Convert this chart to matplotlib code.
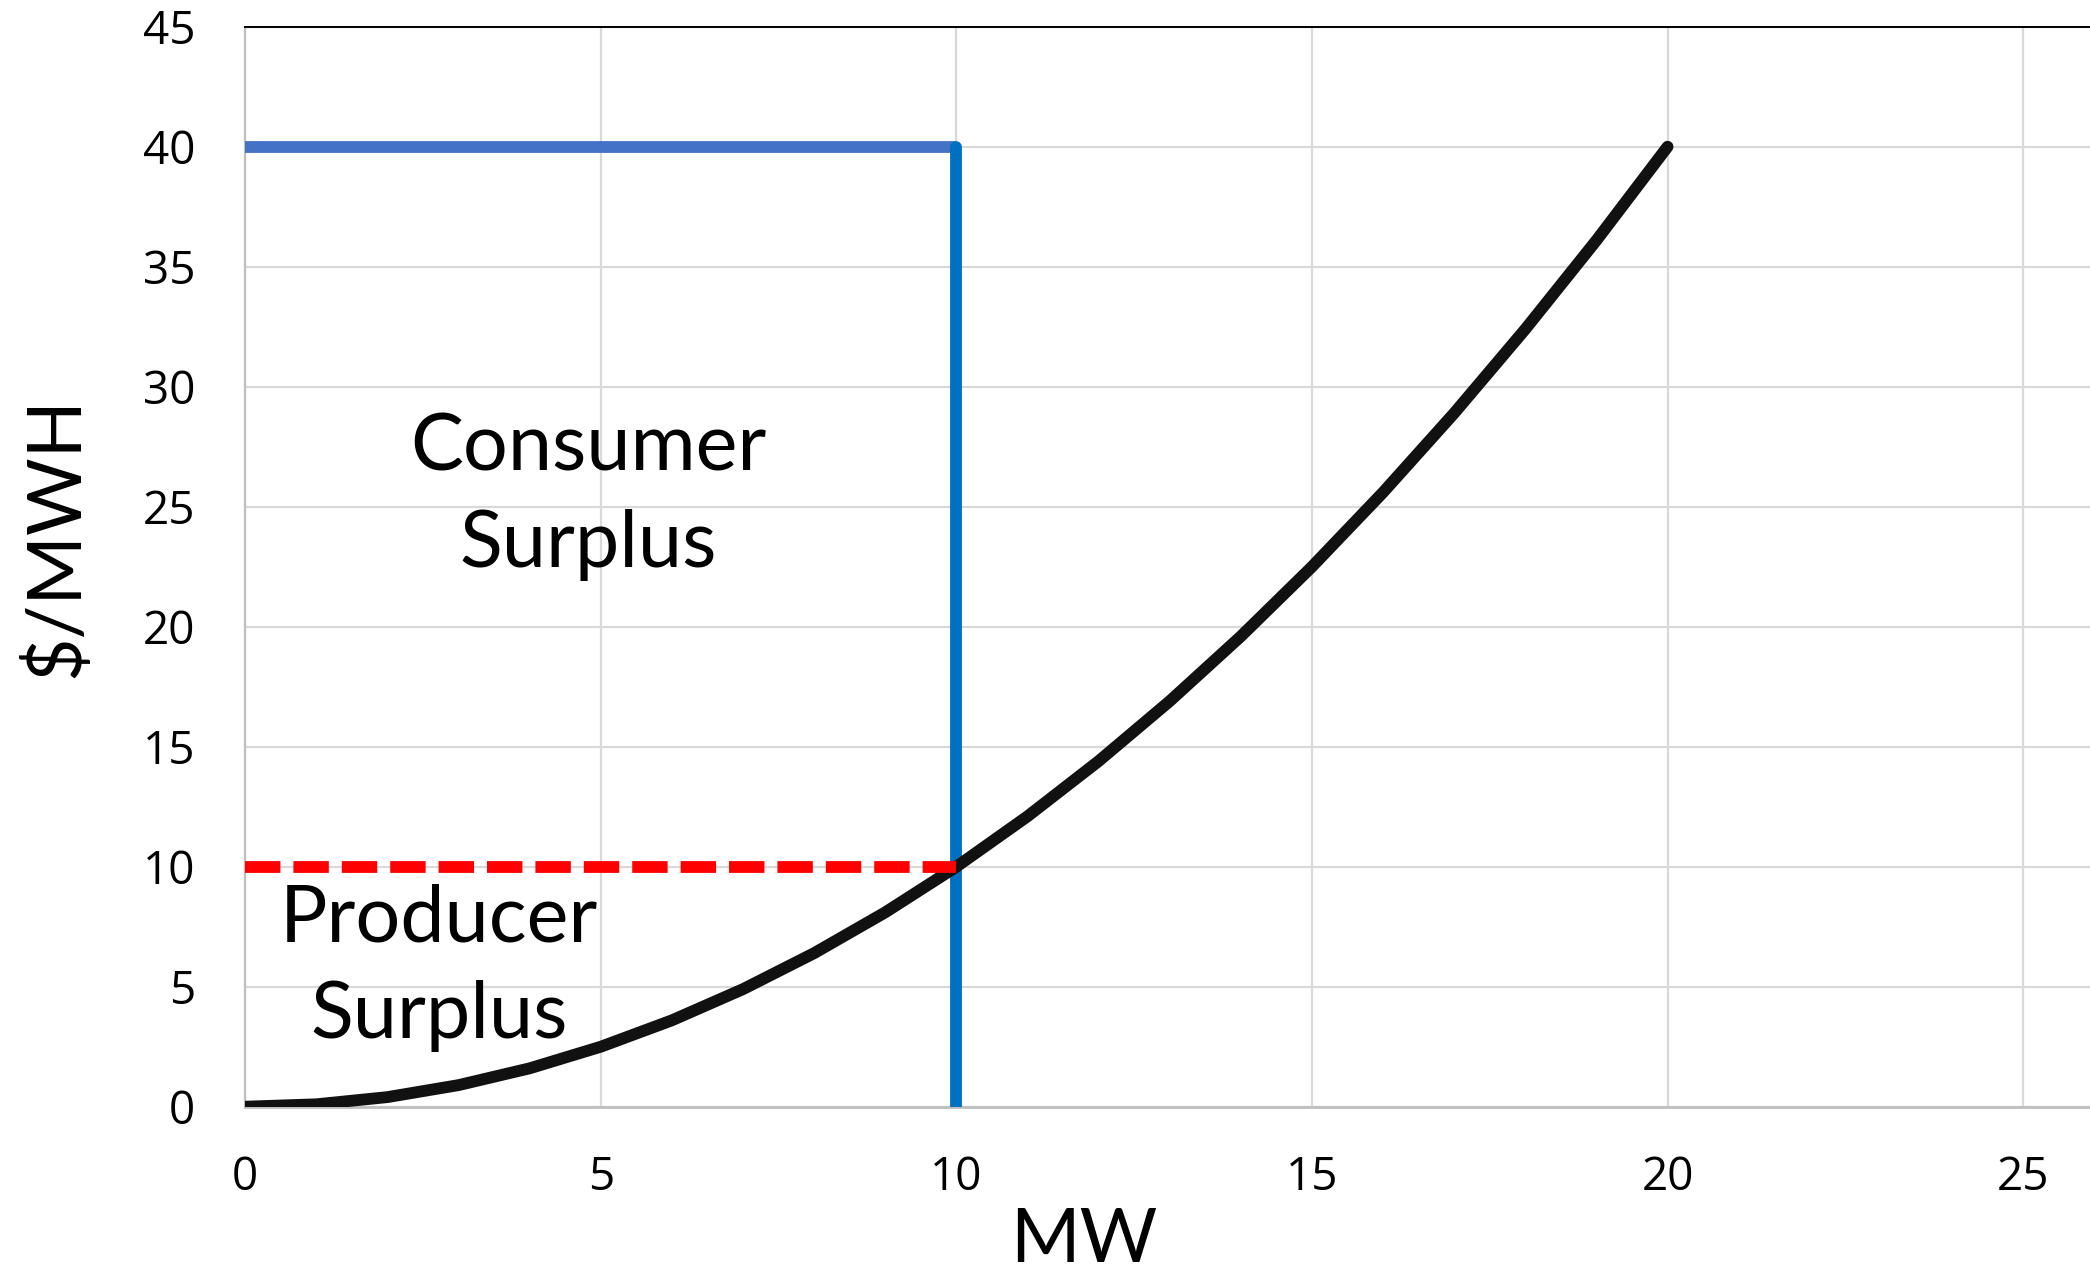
import matplotlib
matplotlib.use("Agg")
import matplotlib.pyplot as plt

# Supply curve: cost rises with output (MW -> $/MWH)
supply_mw = [0, 1, 2, 3, 4, 5, 6, 7, 8, 9, 10, 11, 12, 13, 14, 15, 16, 17, 18, 19, 20]
supply_price = [0, 0.1, 0.4, 0.9, 1.6, 2.5, 3.6, 4.9, 6.4, 8.1, 10.0, 12.1, 14.4,
                16.9, 19.6, 22.5, 25.6, 28.9, 32.4, 36.1, 40.0]

# Demand: flat willingness to pay, then vertical at the demanded quantity
demand_top_mw = [0, 10]
demand_top_price = [40, 40]
demand_vert_mw = [10, 10]
demand_vert_price = [40, 0]

# Clearing price line
clearing_mw = [0, 10]
clearing_price = [10, 10]

x_ticks = [0, 5, 10, 15, 20, 25]
y_ticks = [0, 5, 10, 15, 20, 25, 30, 35, 40, 45]

W, H = 2090, 1273
fig = plt.figure(figsize=(W / 100, H / 100), dpi=100)
ax = fig.add_axes([245.3 / W, 1 - 1106.7 / H, 1 - 245.3 / W, (1106.7 - 26.7) / H])

ax.set_xlim(0, 25.94)
ax.set_ylim(0, 45)
ax.set_xticks(x_ticks)
ax.set_yticks(y_ticks)
ax.grid(True, color="#D9D9D9", linewidth=1.6, zorder=0)
ax.tick_params(length=0, labelsize=33, pad=0)
for lab in ax.get_xticklabels() + ax.get_yticklabels():
    lab.set_fontfamily("Open Sans")
ax.tick_params(axis="y", pad=36)
ax.tick_params(axis="x", pad=35)

ax.spines["right"].set_visible(False)
ax.spines["top"].set_color("black")
ax.spines["top"].set_linewidth(1.4)
ax.spines["left"].set_color("#BFBFBF")
ax.spines["left"].set_linewidth(1.6)
ax.spines["bottom"].set_color("#BFBFBF")
ax.spines["bottom"].set_linewidth(2.0)

lw = 8.5
ax.plot(demand_top_mw, demand_top_price, color="#4472C4", linewidth=lw,
        solid_capstyle="butt", zorder=3)
ax.plot(demand_vert_mw, demand_vert_price, color="#0070C0", linewidth=lw,
        solid_capstyle="round", zorder=4)
ax.plot(supply_mw, supply_price, color="#111111", linewidth=lw,
        solid_capstyle="round", solid_joinstyle="round", zorder=5)
red, = ax.plot(clearing_mw, clearing_price, color="#FF0000", linewidth=lw,
               dash_capstyle="butt", zorder=6)
red.set_dashes([3.0, 1.1])

label_font = "Lato"
ax.text(4.82, 25.4, "Consumer\nSurplus", fontsize=57, family=label_font,
        ha="center", va="center", linespacing=1.42, zorder=7)
ax.text(2.72, 5.8, "Producer\nSurplus", fontsize=57, family=label_font,
        ha="center", va="center", linespacing=1.42, zorder=7)

fig.text(1084 / W, 1 - 1240 / H, "MW", fontsize=54, family=label_font,
         ha="center", va="center")
fig.text(56 / W, 1 - 537 / H, "$/MWH", fontsize=54, family=label_font,
         ha="center", va="center", rotation=90)

fig.savefig("out.png", dpi=100, facecolor="white")
